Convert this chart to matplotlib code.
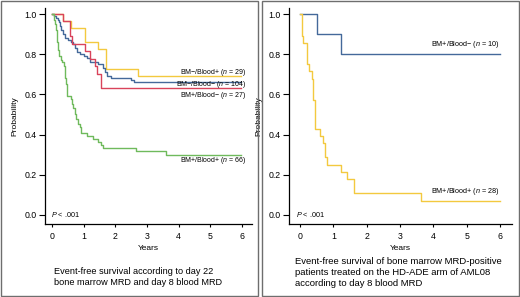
import numpy as np
import matplotlib.pyplot as plt

plt.rcParams['font.family'] = ['Liberation Sans', 'DejaVu Sans']
plt.rcParams['mathtext.fontset'] = 'custom'
plt.rcParams['mathtext.it'] = 'Liberation Sans:italic'
plt.rcParams['mathtext.rm'] = 'Liberation Sans'

# --- left panel: EFS by day 22 BM MRD and day 8 blood MRD ---
yel_t = [0, 0.35, 0.60, 1.03, 1.45, 1.72, 2.72, 5.98]
yel_s = [1.0, 0.966, 0.931, 0.862, 0.828, 0.724, 0.690, 0.690]

red_t = [0, 0.35, 0.58, 0.62, 1.03, 1.20, 1.35, 1.42, 1.55, 5.98]
red_s = [1.0, 0.963, 0.889, 0.852, 0.815, 0.778, 0.741, 0.704, 0.630, 0.630]

blu_t = [0, 0.08, 0.12, 0.18, 0.22, 0.26, 0.30, 0.35, 0.40, 0.50, 0.60, 0.65,
         0.72, 0.80, 0.90, 1.00, 1.10, 1.20, 1.45, 1.60, 1.68, 1.75, 1.85,
         2.50, 2.60, 5.98]
blu_s = [1.0, 0.99, 0.98, 0.97, 0.96, 0.94, 0.92, 0.90, 0.88, 0.87, 0.86, 0.85,
         0.83, 0.81, 0.80, 0.79, 0.78, 0.76, 0.75, 0.73, 0.71, 0.69, 0.68,
         0.67, 0.66, 0.66]

grn_t = [0, 0.05, 0.08, 0.10, 0.12, 0.15, 0.17, 0.19, 0.22, 0.27, 0.32, 0.38,
         0.40, 0.42, 0.44, 0.46, 0.48, 0.60, 0.63, 0.68, 0.72, 0.76, 0.82,
         0.88, 0.93, 1.10, 1.30, 1.45, 1.55, 1.62, 2.65, 3.60, 5.98]
grn_s = [1.0, 0.985, 0.97, 0.95, 0.92, 0.89, 0.86, 0.82, 0.79, 0.77, 0.76, 0.74,
         0.71, 0.68, 0.65, 0.62, 0.59, 0.575, 0.55, 0.53, 0.50, 0.48, 0.455,
         0.44, 0.41, 0.395, 0.38, 0.365, 0.35, 0.335, 0.32, 0.30, 0.30]

# --- right panel: BM MRD-positive, HD-ADE arm ---
rb_t = [0, 0.50, 1.22, 6.0]
rb_s = [1.0, 0.90, 0.80, 0.80]

ry_t = [0, 0.05, 0.10, 0.20, 0.28, 0.35, 0.40, 0.45, 0.60, 0.68, 0.75, 0.80,
        1.22, 1.42, 1.63, 3.63, 6.0]
ry_s = [1.0, 0.893, 0.857, 0.75, 0.714, 0.679, 0.571, 0.429, 0.393, 0.357,
        0.286, 0.25, 0.214, 0.179, 0.107, 0.071, 0.071]

YELLOW = '#f3c93f'
RED = '#d9435b'
BLUE = '#44699a'
GREEN = '#6fba5c'

W, H = 520, 297
fig = plt.figure(figsize=(W / 100, H / 100), dpi=100)


def px_axes(x0, y_top, x1, y_bot):
    return fig.add_axes([x0 / W, 1 - y_bot / H, (x1 - x0) / W, (y_bot - y_top) / H])


def style(ax, xmin, xmax):
    ax.set_xlim(xmin, xmax)
    ax.set_ylim(-0.045, 1.03)
    for s in ('top', 'right'):
        ax.spines[s].set_visible(False)
    for s in ('left', 'bottom'):
        ax.spines[s].set_linewidth(0.9)
    ax.set_xticks(range(7))
    ax.set_yticks([0, 0.2, 0.4, 0.6, 0.8, 1.0])
    ax.set_yticklabels(['0.0', '0.2', '0.4', '0.6', '0.8', '1.0'])
    ax.tick_params(axis='y', length=4, width=0.8, labelsize=6.3, pad=2)
    ax.tick_params(axis='x', length=2.5, width=0.8, labelsize=6.3, pad=3)
    ax.set_xlabel('Years', fontsize=6, labelpad=3)
    ax.set_ylabel('Probability', fontsize=6, labelpad=4)
    ax.text(0.03, 0.0, r'$P$ < .001', transform=ax.get_yaxis_transform(),
            fontsize=5.2, va='center', ha='left')


# panel frames
for x0, x1 in [(1, 258), (262, 519)]:
    fig.patches.append(plt.Rectangle((x0 / W, 1 / H), (x1 - x0) / W, (H - 2) / H,
                                     transform=fig.transFigure, fill=False,
                                     edgecolor='#6e6e6e', linewidth=1.0))

# left panel
ax1 = px_axes(45, 8, 252, 224)
style(ax1, -0.22, 6.32)
ax1.step(yel_t, yel_s, where='post', color=YELLOW, lw=1)
ax1.step(blu_t, blu_s, where='post', color=BLUE, lw=1)
ax1.step(red_t, red_s, where='post', color=RED, lw=1)
ax1.step(grn_t, grn_s, where='post', color=GREEN, lw=1)
lab = dict(fontsize=5.0, ha='right', va='center')
ax1.text(6.15, 0.710, 'BM\u2212/Blood+ ($n$ = 29)', **lab)
ax1.text(6.15, 0.650, 'BM\u2212/Blood\u2212 ($n$ = 104)', **lab)
ax1.text(6.15, 0.597, 'BM+/Blood\u2212 ($n$ = 27)', **lab)
ax1.text(6.15, 0.269, 'BM+/Blood+ ($n$ = 66)', **lab)

# right panel
ax2 = px_axes(289, 8, 512, 224)
style(ax2, -0.33, 6.36)
ax2.step(rb_t, rb_s, where='post', color=BLUE, lw=1)
ax2.step(ry_t, ry_s, where='post', color=YELLOW, lw=1)
ax2.text(6.0, 0.82, 'BM+/Blood\u2212 ($n$ = 10)', fontsize=5.2, ha='right', va='bottom')
ax2.text(6.0, 0.09, 'BM+/Blood+ ($n$ = 28)', fontsize=5.2, ha='right', va='bottom')

# captions
fig.text(54 / W, 1 - 267 / H,
         'Event-free survival according to day 22\nbone marrow MRD and day 8 blood MRD',
         fontsize=6.6, va='top', ha='left', linespacing=1.3)
fig.text(295 / W, 1 - 257 / H,
         'Event-free survival of bone marrow MRD-positive\n'
         'patients treated on the HD-ADE arm of AML08\naccording to day 8 blood MRD',
         fontsize=6.8, va='top', ha='left', linespacing=1.25)

fig.savefig('out.png', dpi=100)
